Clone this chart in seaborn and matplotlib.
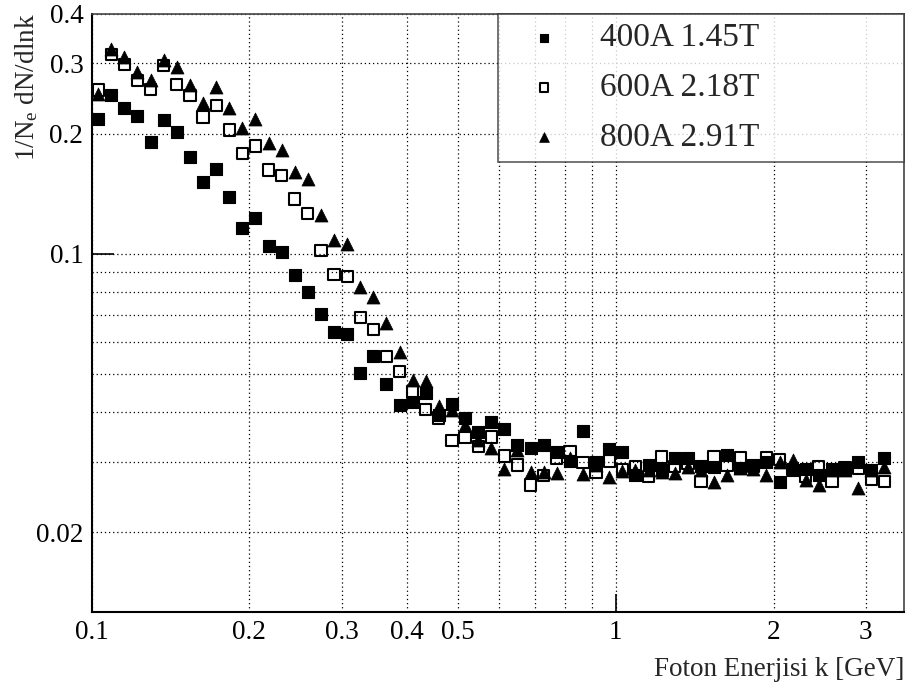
import numpy as np
import pandas as pd
import matplotlib
matplotlib.use("Agg")
import matplotlib.pyplot as plt
import seaborn as sns

# ---- data -------------------------------------------------------------
energy_gev = [
    0.1029, 0.1090, 0.1155, 0.1223, 0.1296, 0.1373, 0.1454, 0.1540, 0.1631, 0.1728,
    0.1830, 0.1939, 0.2054, 0.2175, 0.2304, 0.2441, 0.2585, 0.2738, 0.2901, 0.3073,
    0.3255, 0.3448, 0.3652, 0.3868, 0.4097, 0.4340, 0.4597, 0.4870, 0.5158, 0.5464,
    0.5788, 0.6131, 0.6494, 0.6879, 0.7286, 0.7718, 0.8175, 0.8660, 0.9173, 0.9716,
    1.029, 1.090, 1.155, 1.223, 1.296, 1.373, 1.454, 1.540, 1.631, 1.728,
    1.830, 1.939, 2.054, 2.175, 2.304, 2.441, 2.585, 2.738, 2.901, 3.073, 3.255,
]

y_400A = [
    0.218, 0.250, 0.232, 0.221, 0.191, 0.216, 0.202, 0.175, 0.151, 0.163,
    0.139, 0.116, 0.123, 0.1045, 0.1008, 0.0882, 0.0800, 0.0707, 0.0635, 0.0630,
    0.0502, 0.0553, 0.0470, 0.0417, 0.0425, 0.0446, 0.0394, 0.0419, 0.0386, 0.0357,
    0.0379, 0.0363, 0.0331, 0.0325, 0.0332, 0.0318, 0.0302, 0.0359, 0.0301, 0.0324,
    0.0318, 0.0278, 0.0295, 0.0287, 0.0307, 0.0307, 0.0293, 0.0292, 0.0312, 0.0290,
    0.0295, 0.0301, 0.0268, 0.0287, 0.0289, 0.0278, 0.0289, 0.0289, 0.0301, 0.0287, 0.0307,
]

y_600A = [
    0.257, 0.316, 0.298, 0.272, 0.258, 0.296, 0.266, 0.249, 0.220, 0.235,
    0.204, 0.178, 0.186, 0.162, 0.157, 0.137, 0.126, 0.102, 0.0887, 0.0877,
    0.0691, 0.0646, 0.0551, 0.0507, 0.0450, 0.0407, 0.0387, 0.0340, 0.0346, 0.0328,
    0.0347, 0.0311, 0.0295, 0.0263, 0.0278, 0.0307, 0.0318, 0.0299, 0.0282, 0.0302,
    0.0288, 0.0293, 0.0276, 0.0309, 0.0292, 0.0298, 0.0268, 0.0309, 0.0295, 0.0307,
    0.0293, 0.0307, 0.0304, 0.0287, 0.0276, 0.0292, 0.0268, 0.0291, 0.0289, 0.0271, 0.0268,
]

y_800A = [
    0.252, 0.326, 0.312, 0.286, 0.272, 0.306, 0.293, 0.264, 0.238, 0.261,
    0.232, 0.206, 0.217, 0.189, 0.182, 0.160, 0.154, 0.125, 0.108, 0.106,
    0.0823, 0.0779, 0.0668, 0.0568, 0.0482, 0.0479, 0.0416, 0.0405, 0.0371, 0.0340,
    0.0325, 0.0288, 0.0322, 0.0284, 0.0284, 0.0281, 0.0307, 0.0280, 0.0295, 0.0275,
    0.0285, 0.0287, 0.0287, 0.0284, 0.0281, 0.0292, 0.0287, 0.0268, 0.0278, 0.0290,
    0.0289, 0.0278, 0.0301, 0.0304, 0.0271, 0.0263, 0.0287, 0.0287, 0.0258, 0.0287, 0.0292,
]

series_labels = ["400A 1.45T", "600A 2.18T", "800A 2.91T"]

x_major = [0.1, 1.0]
x_major_labels = ["0.1", "1"]
x_minor = [0.2, 0.3, 0.4, 0.5, 0.6, 0.7, 0.8, 0.9, 2.0, 3.0]
x_minor_labels = ["0.2", "0.3", "0.4", "0.5", "", "", "", "", "2", "3"]
y_major = [0.1]
y_major_labels = ["0.1"]
y_minor = [0.02, 0.03, 0.04, 0.05, 0.06, 0.07, 0.08, 0.09, 0.2, 0.3, 0.4]
y_minor_labels = ["0.02", "", "", "", "", "", "", "", "0.2", "0.3", "0.4"]

x_title = "Foton Enerjisi k [GeV]"
y_title = r"1/N$_{\rm e}$ dN/dlnk"

# ---- style ------------------------------------------------------------
sns.set_theme(style="white")
plt.rcParams["font.family"] = ["Liberation Serif", "DejaVu Serif"]
plt.rcParams["mathtext.fontset"] = "custom"
plt.rcParams["mathtext.rm"] = "Liberation Serif"
plt.rcParams["mathtext.it"] = "Liberation Serif:italic"

df = pd.DataFrame({
    "k": energy_gev * 3,
    "y": y_400A + y_600A + y_800A,
    "series": [series_labels[0]] * len(energy_gev)
    + [series_labels[1]] * len(energy_gev)
    + [series_labels[2]] * len(energy_gev),
})

fig = plt.figure(figsize=(9.12, 6.82), dpi=100)
ax = fig.add_axes([0.1005, 0.1031, 0.8907, 0.8771])

ax.set_xscale("log")
ax.set_yscale("log")

styles = {
    series_labels[0]: dict(marker="s", color="black", edgecolor="black", s=68, linewidth=0.8),
    series_labels[1]: dict(marker="s", color="none", edgecolor="black", s=66, linewidth=1.5),
    series_labels[2]: dict(marker="^", color="black", edgecolor="black", s=88, linewidth=0.5),
}
for lab in series_labels:
    sub = df[df["series"] == lab]
    sns.scatterplot(data=sub, x="k", y="y", ax=ax, label=lab, zorder=3,
                    legend=False, **styles[lab])

ax.set_xlim(0.1, 3.548)
ax.set_ylim(0.01265, 0.4)

# ticks
ax.set_xticks(x_major, x_major_labels)
ax.set_xticks(x_minor, x_minor_labels, minor=True)
ax.set_yticks(y_major, y_major_labels)
ax.set_yticks(y_minor, y_minor_labels, minor=True)
ax.tick_params(axis="both", which="both", direction="in", labelsize=19.5,
               colors="black", width=1.2)
ax.tick_params(axis="y", which="major", length=16, pad=6)
ax.tick_params(axis="y", which="minor", length=6, pad=6)
ax.tick_params(axis="x", which="major", length=13, pad=6)
ax.tick_params(axis="x", which="minor", length=5, pad=6)
ax.tick_params(bottom=True, left=True, top=False, right=False)

ax.grid(True, which="both", color="black", linestyle=(0, (1, 2.3)), linewidth=0.9)
ax.set_axisbelow(True)

for side in ["left", "bottom"]:
    ax.spines[side].set_color("black")
    ax.spines[side].set_linewidth(1.5)
for side in ["top", "right"]:
    ax.spines[side].set_color("#444444")
    ax.spines[side].set_linewidth(1.2)

ax.set_xlabel(x_title, fontsize=19.5, loc="right")
ax.xaxis.set_label_coords(1.0, -0.075)
ax.xaxis.label.set_horizontalalignment("right")
ax.set_ylabel(y_title, fontsize=19.5, loc="top")
ax.yaxis.set_label_coords(-0.064, 1.0)

handles, labels = ax.get_legend_handles_labels()
leg = ax.legend(handles, labels, loc="upper left", bbox_to_anchor=(0.5, 1.0, 0.5, 0.0),
                mode="expand", borderaxespad=0.0, fontsize=24, markerscale=0.75,
                frameon=True, fancybox=False, edgecolor="#333333",
                handletextpad=0.6, handlelength=2.2, borderpad=0.28,
                labelspacing=0.58)
leg.get_frame().set_linewidth(1.2)
leg.set_zorder(10)

fig.savefig("out.png", dpi=100, facecolor="white")
